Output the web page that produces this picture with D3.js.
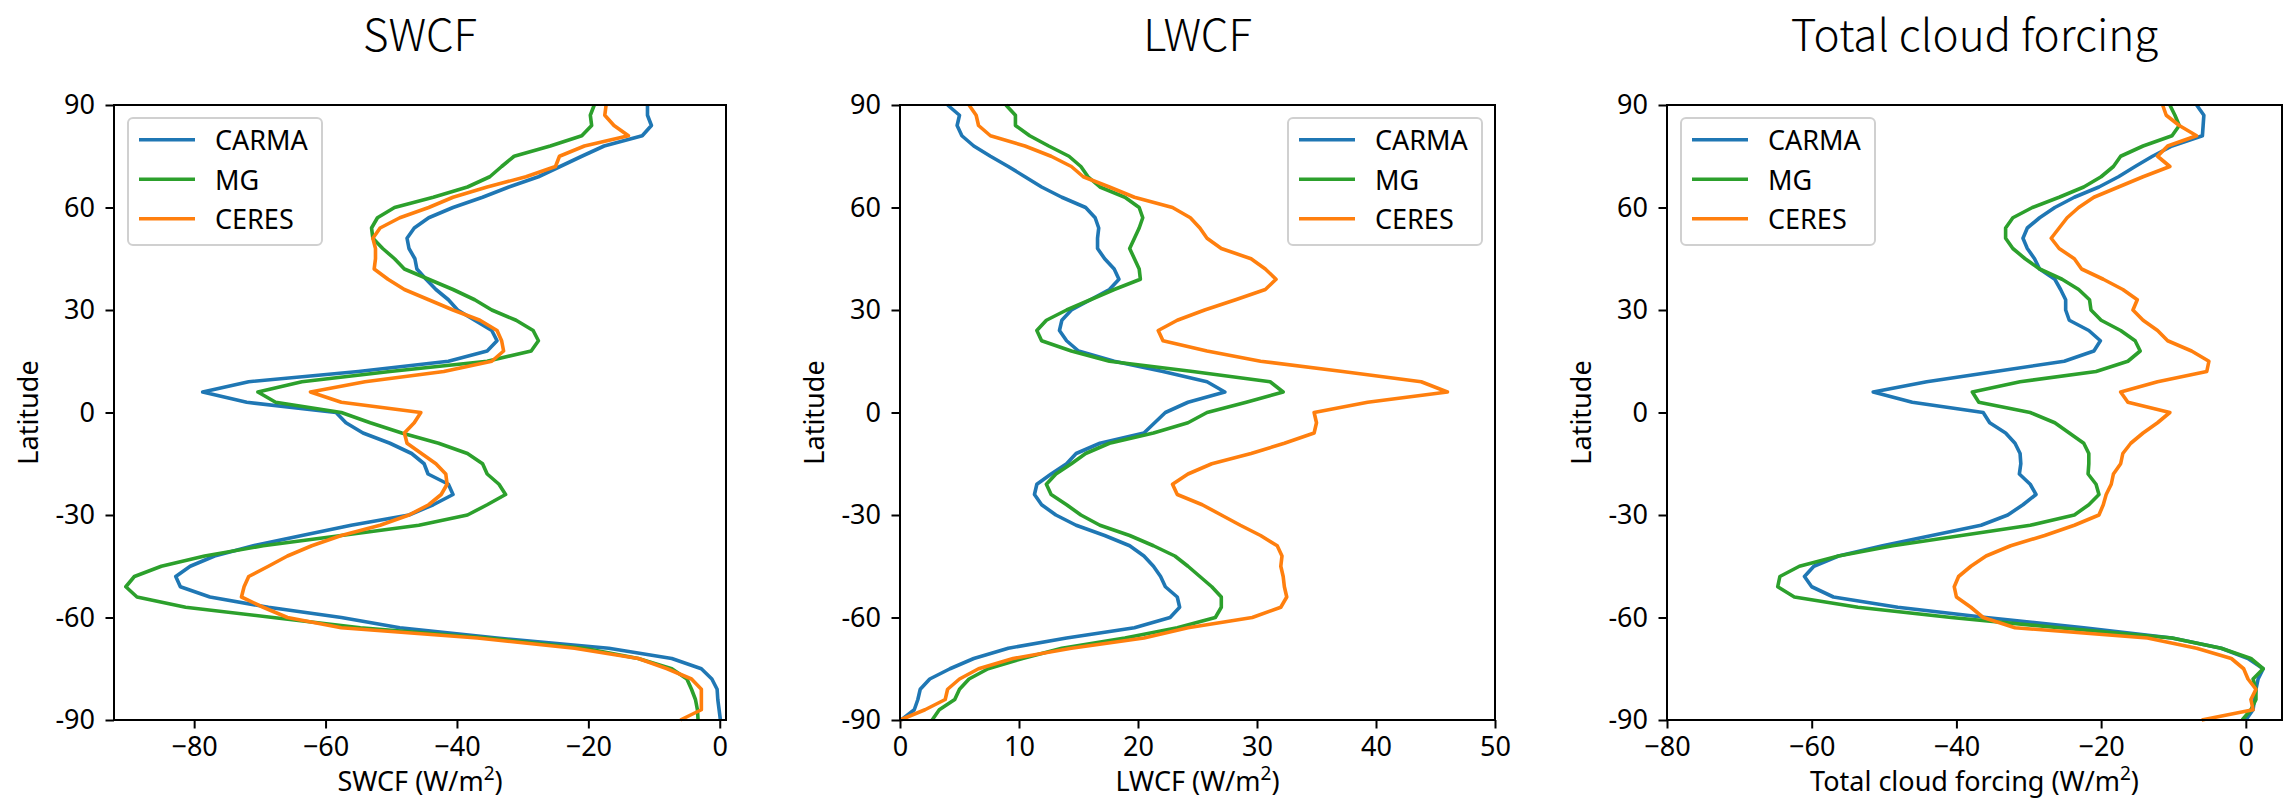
<!DOCTYPE html>
<html>
<head>
<meta charset="utf-8">
<script src="https://cdn.jsdelivr.net/npm/d3@7"></script>
<style>
  body { margin: 0; background: #fff; }
  text { font-family: "Noto Sans", "DejaVu Sans", sans-serif; fill: #000; }
  .title { font-family: "Noto Sans CJK SC", "Noto Sans", sans-serif; font-weight: 300; }
</style>
</head>
<body>
<svg id="chart" width="2285" height="802"></svg>
<script>
// Zonal-mean cloud radiative forcing profiles, latitude on the vertical axis.
const latitude = [90, 87, 84, 81, 78, 75, 72, 69, 66, 63, 60, 57, 54, 51, 48, 45, 42, 39, 36, 33, 30,
  27, 24, 21, 18, 15, 12, 9, 6, 3, 0, -3, -6, -9, -12, -15, -18, -21, -24, -27, -30,
  -33, -36, -39, -42, -45, -48, -51, -54, -57, -60, -63, -66, -69, -72, -75, -78, -81, -84, -87, -90];

// Shortwave cloud forcing (W/m2)
const swcfCarma = [-11.0, -11.0, -10.4, -11.8, -17.6, -21.0, -24.3, -27.6, -32.1, -36.1, -40.6, -44.3, -46.5, -47.6, -47.3, -46.4, -46.1, -44.7, -43.2, -41.3, -39.9,
  -37.3, -34.7, -33.9, -35.4, -41.3, -55.0, -71.7, -78.7, -72.0, -58.4, -56.9, -54.3, -50.2, -46.9, -45.0, -44.4, -41.3, -40.6, -43.6, -47.3,
  -56.1, -63.6, -71.0, -76.9, -80.6, -82.8, -82.1, -77.6, -68.7, -57.6, -48.7, -33.9, -16.9, -7.3, -2.8, -1.2, -0.4, -0.3, -0.1, 0.1];
const swcfMg = [-19.1, -19.7, -19.5, -21.0, -25.8, -31.3, -33.2, -35.0, -38.4, -43.6, -49.5, -52.1, -53.0, -52.8, -51.3, -49.5, -48.0, -44.3, -40.6, -37.3, -34.7,
  -31.0, -28.4, -27.6, -28.7, -35.4, -50.2, -63.6, -70.3, -67.6, -57.6, -53.2, -48.4, -42.8, -38.4, -36.1, -35.4, -33.6, -32.6, -35.4, -38.4,
  -45.8, -57.6, -69.5, -78.4, -85.0, -89.1, -90.4, -88.7, -81.3, -68.0, -54.7, -35.4, -20.6, -12.4, -7.3, -5.0, -4.3, -3.7, -3.4, -3.3];
const swcfCeres = [-17.3, -17.5, -16.1, -13.9, -20.6, -24.4, -25.0, -29.5, -35.4, -40.6, -44.3, -48.7, -51.7, -52.8, -52.4, -52.4, -52.6, -50.5, -48.0, -44.3, -40.6,
  -36.5, -33.9, -33.2, -32.9, -34.7, -42.0, -54.0, -62.3, -57.6, -45.5, -46.5, -48.0, -47.6, -45.4, -43.2, -41.7, -41.5, -42.4, -44.3, -47.3,
  -51.7, -57.6, -62.1, -65.8, -68.7, -71.7, -72.4, -72.8, -69.5, -65.8, -57.6, -36.9, -22.1, -12.4, -8.0, -4.3, -2.8, -2.8, -2.8, -6.0];

// Longwave cloud forcing (W/m2)
const lwcfCarma = [4.0, 5.0, 4.8, 5.2, 6.2, 7.6, 9.1, 10.5, 11.9, 13.6, 15.6, 16.4, 16.7, 16.6, 16.6, 17.2, 18.0, 18.4, 17.6, 16.0, 14.4,
  13.6, 13.4, 14.0, 15.0, 18.0, 22.1, 25.8, 27.3, 24.2, 22.3, 21.4, 20.5, 16.8, 14.8, 14.0, 12.7, 11.5, 11.3, 11.9, 13.1,
  14.8, 17.2, 19.3, 20.5, 21.3, 21.9, 22.3, 23.3, 23.5, 22.7, 19.7, 14.0, 9.1, 6.2, 4.2, 2.5, 1.7, 1.5, 1.2, 0.1];
const lwcfMg = [8.9, 9.7, 9.7, 10.9, 12.5, 14.2, 15.2, 15.8, 16.8, 18.9, 20.1, 20.4, 20.1, 19.7, 19.3, 19.7, 20.1, 20.2, 18.0, 16.0, 14.0,
  12.3, 11.5, 11.9, 14.4, 17.6, 24.6, 31.1, 32.2, 29.1, 25.8, 24.2, 21.3, 17.6, 15.6, 14.4, 13.1, 12.3, 12.7, 14.0, 15.2,
  16.8, 19.3, 21.3, 23.1, 24.2, 25.2, 26.2, 27.0, 27.0, 26.5, 23.3, 18.9, 13.6, 10.3, 7.4, 5.8, 5.0, 4.6, 3.3, 2.7];
const lwcfCeres = [5.8, 6.4, 6.6, 7.6, 10.5, 12.7, 14.4, 15.4, 17.6, 19.7, 22.9, 24.4, 25.2, 25.8, 27.0, 29.5, 30.7, 31.6, 30.7, 28.2, 25.6,
  23.3, 21.7, 22.1, 25.8, 30.3, 37.2, 43.8, 46.0, 39.3, 34.8, 35.0, 34.8, 32.3, 29.5, 26.2, 24.2, 22.9, 23.3, 25.4, 27.0,
  28.6, 30.3, 31.7, 32.1, 32.0, 32.2, 32.3, 32.5, 32.0, 29.6, 24.2, 20.5, 14.4, 9.5, 6.6, 5.0, 4.0, 3.8, 2.1, 0.0];

// Total (net) cloud forcing (W/m2)
const netCarma = [-6.8, -5.8, -5.9, -6.0, -10.2, -12.9, -15.3, -17.6, -20.3, -23.7, -26.4, -28.5, -30.2, -30.8, -30.2, -29.2, -28.5, -26.4, -25.6, -24.9, -24.9,
  -24.4, -21.7, -20.1, -21.0, -25.1, -34.6, -44.1, -51.5, -46.1, -36.3, -35.4, -33.2, -31.9, -31.2, -31.1, -31.3, -29.8, -29.0, -30.8, -32.9,
  -36.6, -43.4, -50.2, -56.3, -59.7, -61.0, -60.0, -57.0, -48.1, -35.9, -22.4, -10.2, -3.4, 0.3, 2.4, 1.7, 1.4, 1.2, 1.0, 0.0];
const netMg = [-10.5, -9.8, -9.2, -10.2, -14.2, -17.3, -18.3, -20.0, -22.4, -25.8, -29.5, -32.2, -33.2, -33.2, -32.2, -30.5, -28.5, -25.4, -23.1, -21.6, -21.4,
  -20.0, -17.3, -15.3, -14.6, -16.3, -20.7, -31.2, -37.8, -36.9, -29.8, -26.4, -24.4, -22.4, -21.7, -21.7, -21.8, -20.7, -20.3, -21.7, -23.7,
  -29.8, -39.3, -48.8, -56.3, -61.7, -64.4, -64.7, -62.4, -53.6, -40.7, -25.8, -10.2, -3.4, 0.7, 2.4, 1.0, 1.4, 1.4, 0.7, -0.5];
const netCeres = [-11.5, -11.0, -9.2, -6.8, -10.8, -12.2, -10.5, -14.2, -17.6, -21.0, -23.1, -24.7, -25.8, -26.9, -25.8, -23.7, -22.7, -19.7, -17.0, -15.0, -15.6,
  -14.2, -12.2, -10.8, -7.5, -5.1, -5.4, -12.2, -17.3, -16.3, -10.5, -12.2, -14.2, -15.9, -17.0, -17.3, -18.3, -18.6, -19.3, -19.7, -20.3,
  -23.7, -27.8, -32.5, -35.9, -38.0, -39.7, -40.3, -40.0, -38.0, -36.3, -31.9, -13.6, -6.8, -2.0, -0.3, 0.3, 1.4, 0.7, 1.0, -6.1];

const seriesNames = ["CARMA", "MG", "CERES"];
const seriesColors = ["#1f77b4", "#2ca02c", "#ff7f0e"];
const panelTitles = ["SWCF", "LWCF", "Total cloud forcing"];
const xLabels = ["SWCF", "LWCF", "Total cloud forcing"];
const xTickValues = [[-80, -60, -40, -20, 0], [0, 10, 20, 30, 40, 50], [-80, -60, -40, -20, 0]];
const yTickValues = [90, 60, 30, 0, -30, -60, -90];

// Panel geometry and axis limits
const plotTop = 105, plotBottom = 720;
const panels = [
  { left: 114, right: 726, xDomain: [-92.2, 0.95], series: [swcfCarma, swcfMg, swcfCeres], legendSide: "left" },
  { left: 900, right: 1495, xDomain: [0, 50], series: [lwcfCarma, lwcfMg, lwcfCeres], legendSide: "right" },
  { left: 1667, right: 2282, xDomain: [-80, 5], series: [netCarma, netMg, netCeres], legendSide: "left" }
];

const tickFont = 27, labelFont = 27, titleFont = 44;
const svg = d3.select("#chart");
svg.append("rect").attr("width", 2285).attr("height", 802).attr("fill", "#fff");

const fmtX = d => d < 0 ? "\u2212" + Math.abs(d) : String(d);

panels.forEach((p, i) => {
  const x = d3.scaleLinear().domain(p.xDomain).range([p.left, p.right]);
  const y = d3.scaleLinear().domain([-90, 90]).range([plotBottom, plotTop]);
  const g = svg.append("g");

  // profiles
  const line = d3.line()
    .x(d => x(d[0]))
    .y(d => y(d[1]));
  p.series.forEach((vals, k) => {
    g.append("path")
      .datum(vals.map((v, j) => [v, latitude[j]]))
      .attr("d", line)
      .attr("fill", "none")
      .attr("stroke", seriesColors[k])
      .attr("stroke-width", 3.6)
      .attr("stroke-linejoin", "round");
  });

  // axes
  const xAxis = g.append("g")
    .attr("transform", `translate(0,${plotBottom})`)
    .call(d3.axisBottom(x).tickValues(xTickValues[i]).tickFormat(fmtX)
      .tickSize(8.5).tickSizeOuter(0).tickPadding(8));
  const yAxis = g.append("g")
    .attr("transform", `translate(${p.left},0)`)
    .call(d3.axisLeft(y).tickValues(yTickValues).tickFormat(d => String(d))
      .tickSize(8.5).tickSizeOuter(0).tickPadding(10.5));
  [xAxis, yAxis].forEach(a => {
    a.select(".domain").remove();
    a.attr("font-family", null).attr("font-size", null);
    a.selectAll(".tick line").attr("stroke", "#000").attr("stroke-width", 2);
    a.selectAll(".tick text").style("font-size", tickFont + "px").attr("fill", "#000");
  });

  // frame
  g.append("rect")
    .attr("x", p.left).attr("y", plotTop)
    .attr("width", p.right - p.left).attr("height", plotBottom - plotTop)
    .attr("fill", "none").attr("stroke", "#000").attr("stroke-width", 2);

  const cx = (p.left + p.right) / 2;
  // title
  g.append("text")
    .attr("class", "title")
    .attr("x", cx).attr("y", 51)
    .attr("text-anchor", "middle")
    .style("font-size", titleFont + "px")
    .text(panelTitles[i]);

  // x label with superscript
  const xl = g.append("text")
    .attr("x", cx).attr("y", 791)
    .attr("text-anchor", "middle")
    .style("font-size", labelFont + "px")
    .text(xLabels[i] + " (W/m");
  xl.append("tspan").attr("dy", -11).style("font-size", "19px").text("2");
  xl.append("tspan").attr("dy", 11).text(")");

  // y label
  g.append("text")
    .attr("transform", `translate(${p.left - 87},${(plotTop + plotBottom) / 2}) rotate(-90)`)
    .attr("text-anchor", "middle")
    .attr("dominant-baseline", "central")
    .style("font-size", labelFont + "px")
    .text("Latitude");

  // legend
  const lw = 194, lh = 127;
  const lx = p.legendSide === "left" ? p.left + 14 : p.right - 13 - lw;
  const ly = 118;
  const lg = g.append("g").attr("transform", `translate(${lx},${ly})`);
  lg.append("rect")
    .attr("width", lw).attr("height", lh).attr("rx", 5)
    .attr("fill", "#fff").attr("fill-opacity", 0.8)
    .attr("stroke", "#d0d0d0").attr("stroke-width", 2);
  seriesNames.forEach((name, k) => {
    const ry = 21.7 + k * 39.5;
    lg.append("line")
      .attr("x1", 11).attr("x2", 67).attr("y1", ry).attr("y2", ry)
      .attr("stroke", seriesColors[k]).attr("stroke-width", 3.6);
    lg.append("text")
      .attr("x", 87).attr("y", ry)
      .attr("dominant-baseline", "central")
      .style("font-size", tickFont + "px")
      .text(name);
  });
});
</script>
</body>
</html>
